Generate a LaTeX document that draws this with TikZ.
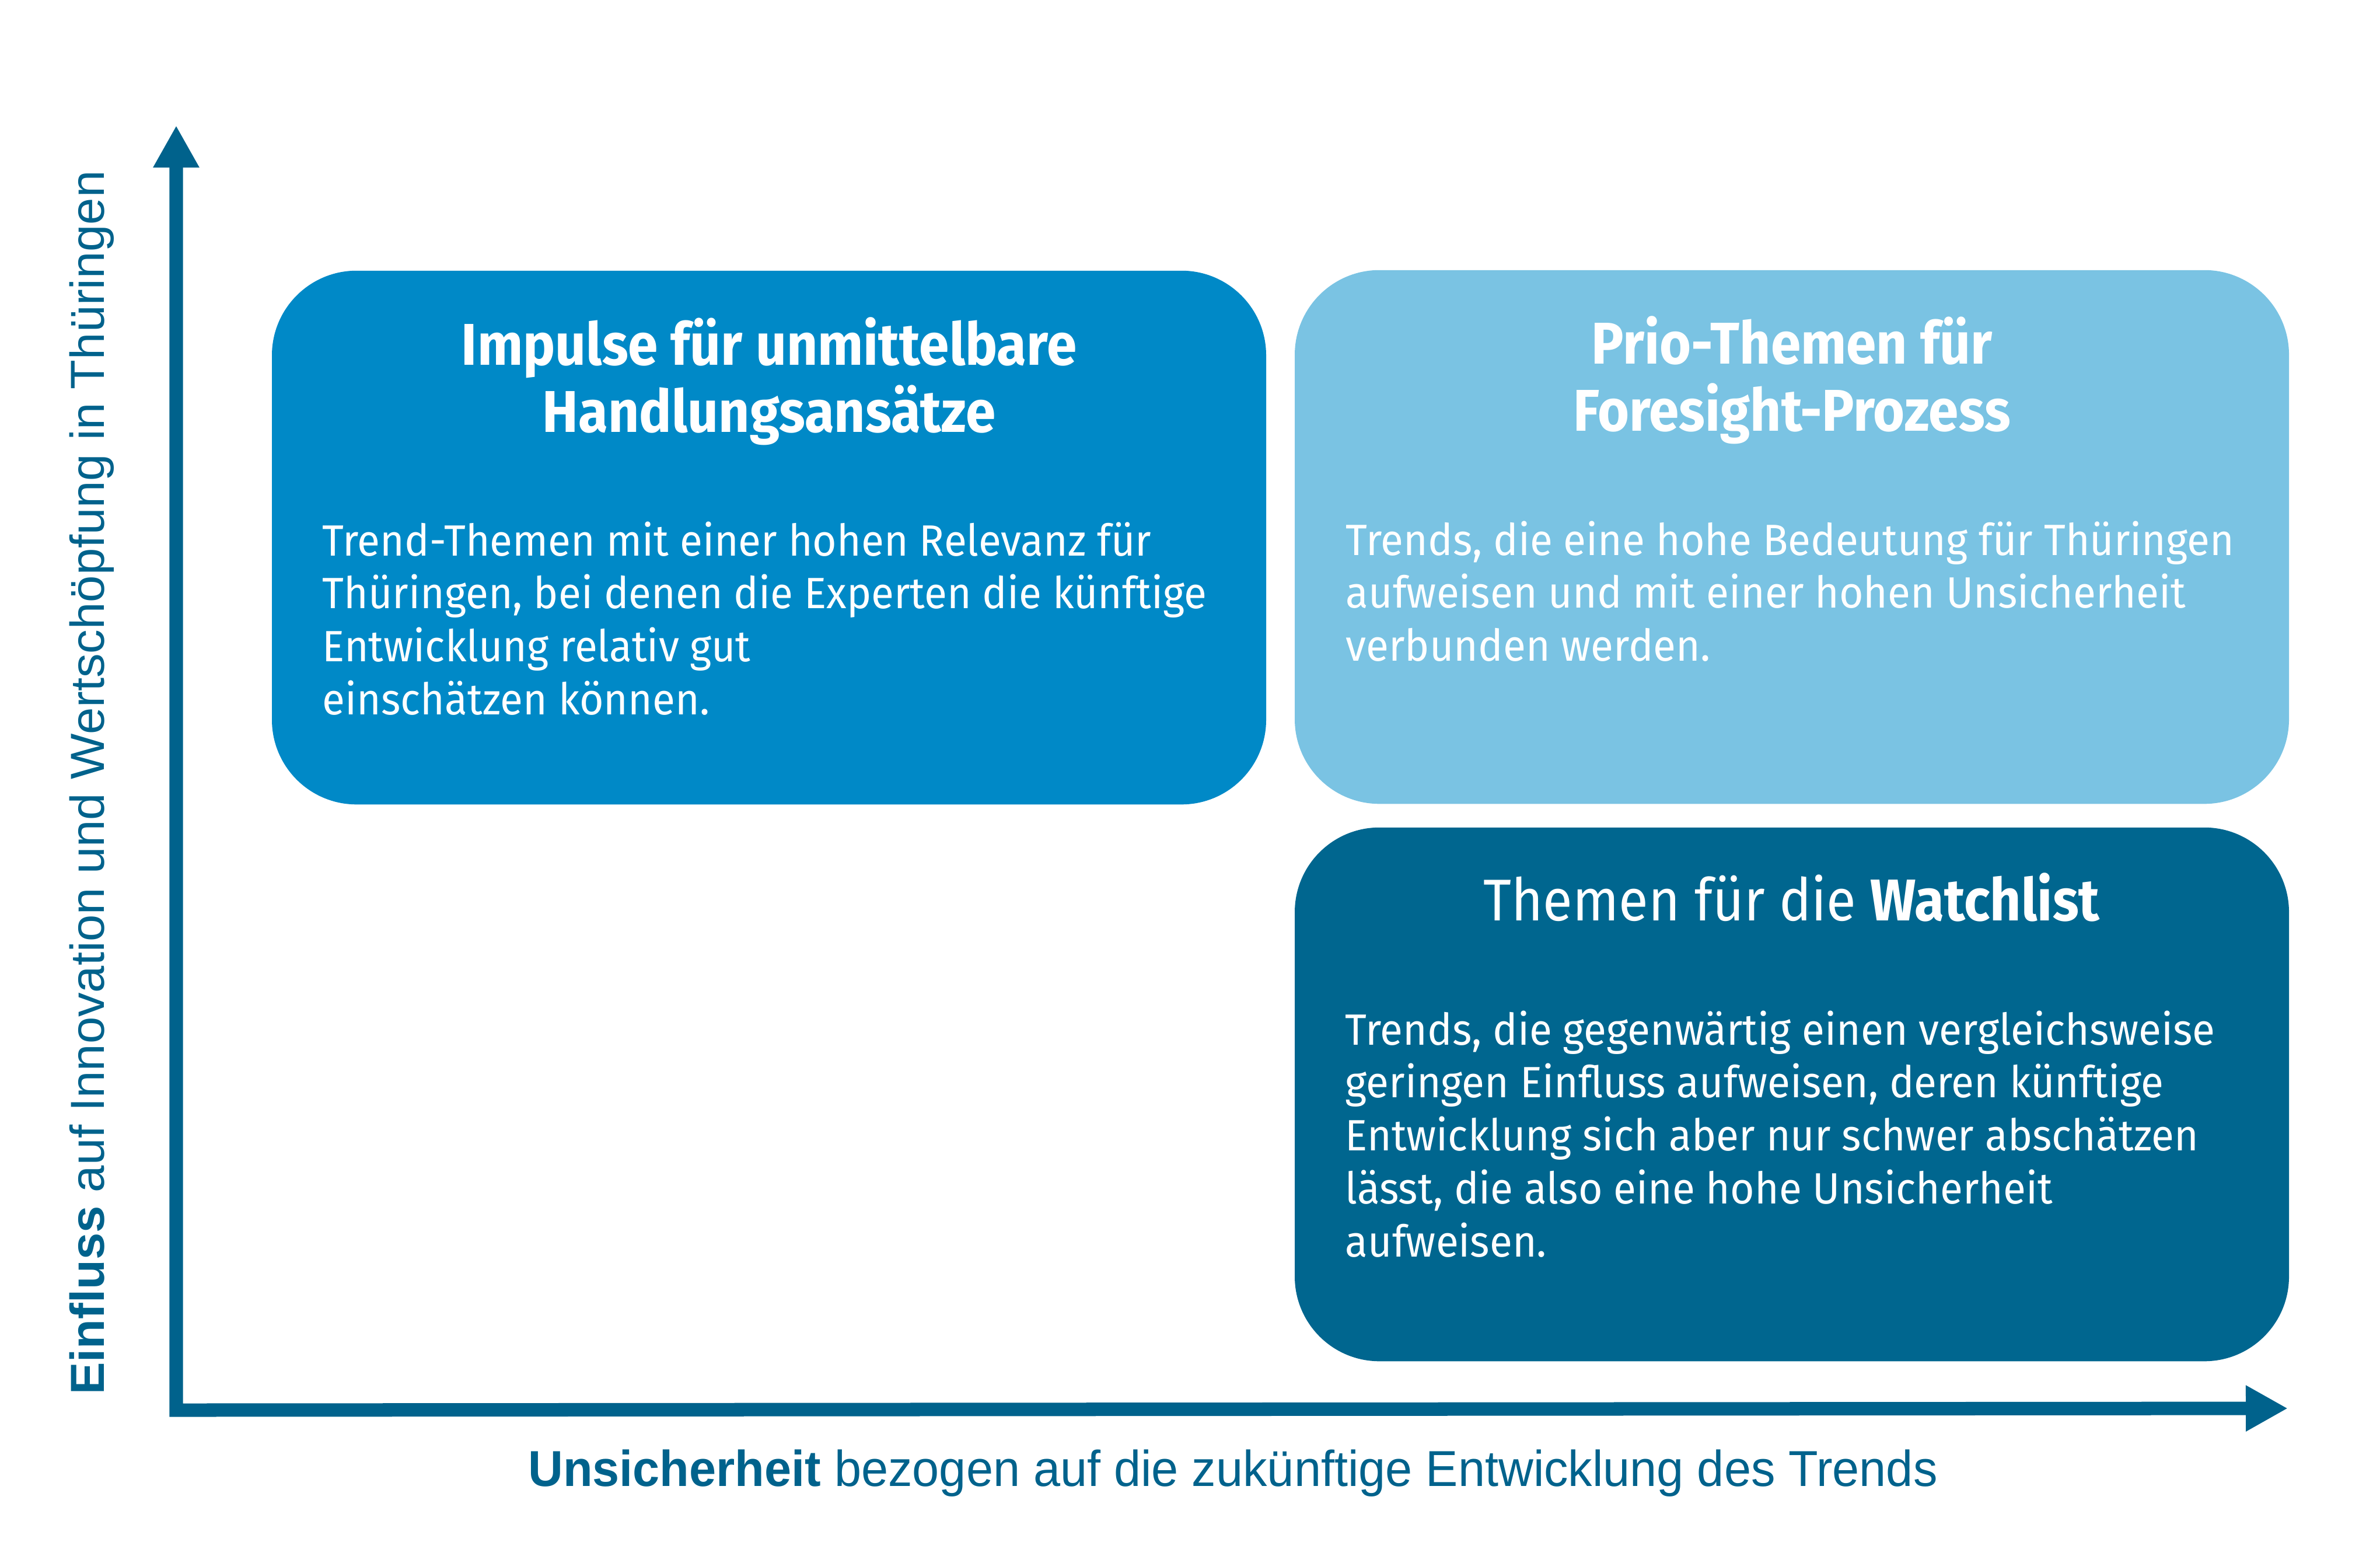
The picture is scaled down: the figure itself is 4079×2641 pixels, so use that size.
\documentclass[tikz,border=0pt]{standalone}
\usepackage{fontspec}
\setmainfont{Fira Sans}
\newfontfamily\bodyfont[FakeStretch=0.95]{Fira Sans}
\newfontfamily\titlefont[FakeStretch=0.918]{Fira Sans}
\newfontfamily\xaxisfont[FakeStretch=0.958]{Liberation Sans}
\newfontfamily\yaxisfont[FakeStretch=1.015]{Liberation Sans}
\usetikzlibrary{arrows.meta}
\definecolor{boxA}{HTML}{0089C7}
\definecolor{boxB}{HTML}{7AC3E3}
\definecolor{boxC}{HTML}{00668F}
\definecolor{axisblue}{HTML}{00628C}
\newcommand\ctext[2]{\vtop{\baselineskip=#1\halign{\hfil##\hfil\cr#2\crcr}}}
\newcommand\ltext[2]{\vtop{\baselineskip=#1\halign{##\hfil\cr#2\crcr}}}
\tikzset{
  quadbox/.style={rounded corners=1.45cm, inner sep=0pt, draw=none,
    minimum width=17.03cm, minimum height=9.14cm},
  titletext/.style={inner sep=0pt, anchor=base, text=white,
    font=\titlefont\fontsize{28.7pt}{34pt}\selectfont},
  bodytext/.style={inner sep=0pt, anchor=base west, text=white,
    font=\bodyfont\fontsize{21.34pt}{25.6pt}\selectfont},
  axisline/.style={draw=axisblue, line width=0.23cm, miter limit=10,
    {Triangle[length=0.72cm, width=0.74cm]}-{Triangle[length=0.72cm, width=0.74cm]}},
  axislabel/.style={inner sep=0pt, text=axisblue},
}
\begin{document}
\begin{tikzpicture}[x=0.01cm, y=-0.01cm]
\useasboundingbox (0,0) rectangle (4079,2641);
% boxes
\node[quadbox, fill=boxA] (b1) at (1318,921) {};
\node[quadbox, fill=boxB] (b2) at (3071,920) {};
\node[quadbox, fill=boxC] (b3) at (3071,1875) {};
% titles
\node[titletext] (t1) at (1318,625) {\ctext{1.15cm}{\bfseries Impulse für unmittelbare\cr \bfseries Handlungsansätze}};
\node[titletext] (t2) at (3071,623) {\ctext{1.15cm}{\bfseries Prio-Themen für\cr \bfseries Foresight-Prozess}};
\node[titletext] (t3) at (3071,1577) {Themen für die \textbf{Watchlist}};
% bodies
\node[bodytext] (p1) at (552,952) {\ltext{0.907cm}{Trend-Themen mit einer hohen Relevanz für\cr Thüringen, bei denen die Experten die künftige\cr Entwicklung relativ gut\cr einschätzen können.}};
\node[bodytext] (p2) at (2306,951) {\ltext{0.907cm}{Trends, die eine hohe Bedeutung für Thüringen\cr aufweisen und mit einer hohen Unsicherheit\cr verbunden werden.}};
\node[bodytext] (p3) at (2305,1790) {\ltext{0.907cm}{Trends, die gegenwärtig einen vergleichsweise\cr geringen Einfluss aufweisen, deren künftige\cr Entwicklung sich aber nur schwer abschätzen\cr lässt, die also eine hohe Unsicherheit\cr aufweisen.}};
% axes
\coordinate (O) at (302,2416);
\coordinate (Ytip) at (302,215);
\coordinate (Xtip) at (3921,2413);
\draw[axisline] (Ytip) -- (O) -- (Xtip);
% axis labels
\node[axislabel, anchor=base, font=\xaxisfont\fontsize{24.6pt}{30pt}\selectfont] (xl) at (2113,2546) {\textbf{Unsicherheit} bezogen auf die zukünftige Entwicklung des Trends};
\node[axislabel, anchor=base, rotate=90, font=\yaxisfont\fontsize{23.3pt}{28pt}\selectfont] (yl) at (178,1341) {\textbf{Einfluss} auf Innovation und Wertschöpfung in Thüringen};
\end{tikzpicture}
\end{document}
